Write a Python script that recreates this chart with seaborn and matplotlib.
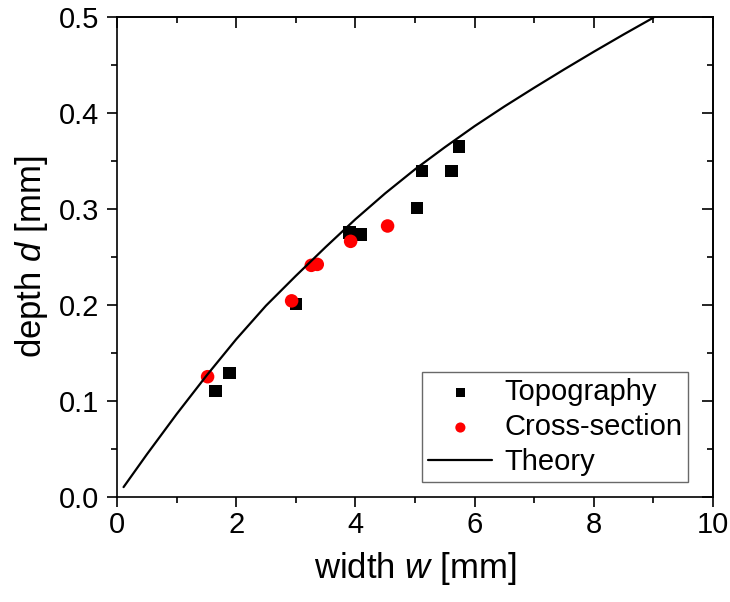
import matplotlib
matplotlib.use("Agg")
import matplotlib.pyplot as plt
import seaborn as sns
from matplotlib.ticker import MultipleLocator

topo_w = [1.65, 1.89, 3.00, 3.90, 4.09, 5.03, 5.12, 5.61, 5.74]
topo_d = [0.110, 0.129, 0.201, 0.275, 0.273, 0.301, 0.339, 0.339, 0.365]

cross_w = [1.52, 2.93, 3.26, 3.36, 3.92, 4.54]
cross_d = [0.125, 0.204, 0.241, 0.242, 0.266, 0.282]

# Theoriekurve
theory_w = [0.11, 0.5, 1.0, 1.5, 2.0, 2.5, 3.0, 3.5, 4.0, 4.5, 5.0, 5.5, 6.0,
            6.5, 7.0, 7.5, 8.0, 8.5, 9.0]
theory_d = [0.010, 0.044, 0.086, 0.126, 0.164, 0.199, 0.230, 0.260, 0.289, 0.316,
            0.341, 0.364, 0.386, 0.4065, 0.426, 0.445, 0.4635, 0.4815, 0.499]

sns.set_style("ticks")
plt.rcParams['font.family'] = ['Liberation Sans', 'DejaVu Sans']
plt.rcParams['mathtext.fontset'] = 'custom'
plt.rcParams['mathtext.it'] = 'Liberation Sans:italic'
plt.rcParams['mathtext.rm'] = 'Liberation Sans'
plt.rcParams['text.color'] = 'black'
plt.rcParams['axes.labelcolor'] = 'black'
plt.rcParams['xtick.color'] = 'black'
plt.rcParams['ytick.color'] = 'black'
plt.rcParams['axes.edgecolor'] = 'black'

fig = plt.figure(figsize=(7.3, 6.02), dpi=100)
ax = fig.add_axes([117 / 730, 1 - 496.7 / 602, 596 / 730, 480 / 602])

sns.scatterplot(x=topo_w, y=topo_d, marker='s', color='black', s=80,
                edgecolor='none', label='Topography', ax=ax, zorder=2)
sns.scatterplot(x=cross_w, y=cross_d, marker='o', color='#ff0000', s=95,
                edgecolor='none', label='Cross-section', ax=ax, zorder=3)
sns.lineplot(x=theory_w, y=theory_d, color='black', linewidth=1.6,
             label='Theory', ax=ax, zorder=4)

ax.set_xlim(0, 10)
ax.set_ylim(0, 0.5)
ax.xaxis.set_major_locator(MultipleLocator(2))
ax.xaxis.set_minor_locator(MultipleLocator(1))
ax.yaxis.set_major_locator(MultipleLocator(0.1))
ax.yaxis.set_minor_locator(MultipleLocator(0.05))
ax.yaxis.set_major_formatter(lambda v, p: f"{v:.1f}")

for sp in ax.spines.values():
    sp.set_linewidth(1.2)
    sp.set_visible(True)

ax.tick_params(which='major', direction='out', length=7, width=1.2, labelsize=21)
ax.tick_params(axis='y', which='major', pad=6)
ax.tick_params(which='minor', direction='out', length=4, width=1.2)

# obere und rechte Achse mit Ticks nach innen
top = ax.secondary_xaxis('top')
top.xaxis.set_major_locator(MultipleLocator(2))
top.xaxis.set_minor_locator(MultipleLocator(1))
top.tick_params(which='major', direction='in', length=8, width=1.2, labeltop=False)
top.tick_params(which='minor', direction='in', length=4, width=1.2)
right = ax.secondary_yaxis('right')
right.yaxis.set_major_locator(MultipleLocator(0.1))
right.yaxis.set_minor_locator(MultipleLocator(0.05))
right.tick_params(which='major', direction='in', length=8, width=1.2, labelright=False)
right.tick_params(which='minor', direction='in', length=4, width=1.2)
for s in (top, right):
    for sp in s.spines.values():
        sp.set_linewidth(1.2)

ax.set_xlabel(r"width $\it{w}$ [mm]", fontsize=25, labelpad=8)
ax.set_ylabel(r"depth $\it{d}$ [mm]", fontsize=25, labelpad=6)

leg = ax.legend(loc='lower right', bbox_to_anchor=(0.958, 0.03), borderaxespad=0,
                fontsize=21, frameon=True, fancybox=False, edgecolor='#444444',
                handlelength=2.2, handletextpad=0.4, labelspacing=0.25,
                borderpad=0.2, markerscale=0.75)
leg.get_frame().set_linewidth(1.0)

fig.savefig("out.png", dpi=100)
